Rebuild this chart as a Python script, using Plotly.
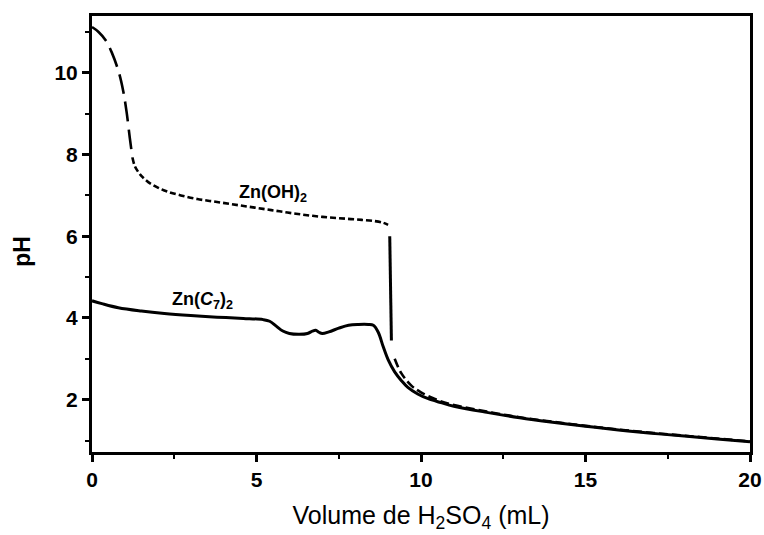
import plotly.graph_objects as go

# Zn(OH)2 titration curve, split into segments drawn with different strokes
oh_steep_x = [0.0, 0.2, 0.42, 0.6, 0.82, 0.95, 1.05, 1.15, 1.23]
oh_steep_y = [11.12, 11.0, 10.79, 10.5, 10.0, 9.55, 9.05, 8.4, 7.92]
oh_plateau_x = [1.23, 1.3, 1.4, 1.5, 1.7, 2.0, 2.3, 2.7, 3.2, 3.7, 4.2, 4.7, 5.2, 5.7, 6.2,
                6.7, 7.2, 7.7, 8.2, 8.6, 8.85, 9.0]
oh_plateau_y = [7.92, 7.72, 7.58, 7.48, 7.33, 7.19, 7.09, 7.0, 6.91, 6.85, 6.79, 6.73, 6.67,
                6.61, 6.55, 6.5, 6.46, 6.43, 6.4, 6.37, 6.33, 6.28]
oh_jump_x = [9.05, 9.1]
oh_jump_y = [6.0, 3.45]
oh_tail_x = [9.2, 9.4, 9.7, 10.0, 10.5, 11, 12, 13, 14, 15, 16, 17, 18, 19, 20]
oh_tail_y = [3.0, 2.65, 2.35, 2.18, 1.99, 1.87, 1.71, 1.57, 1.46, 1.36, 1.27, 1.19, 1.12, 1.05, 0.98]

# Zn(C7)2 titration curve
c7_x = [0.0, 0.3, 0.8, 1.5, 2.2, 3.0, 3.8, 4.6, 5.2, 5.4, 5.6, 5.8, 6.0, 6.3, 6.55, 6.7, 6.8,
        6.9, 7.0, 7.2, 7.5, 7.8, 8.1, 8.4, 8.55, 8.7, 8.85, 9.0, 9.2, 9.4, 9.6, 9.9, 10.2,
        10.6, 11, 12, 13, 14, 15, 16, 17, 18, 19, 20]
c7_y = [4.42, 4.35, 4.25, 4.17, 4.11, 4.06, 4.02, 3.99, 3.96, 3.92, 3.8, 3.68, 3.62, 3.6,
        3.62, 3.68, 3.7, 3.65, 3.62, 3.66, 3.75, 3.82, 3.84, 3.84, 3.82, 3.65, 3.3, 2.98,
        2.68, 2.47, 2.3, 2.14, 2.03, 1.93, 1.84, 1.69, 1.56, 1.45, 1.35, 1.26, 1.18, 1.11,
        1.04, 0.97]

x_ticks = [0, 5, 10, 15, 20]
y_ticks = [2, 4, 6, 8, 10]

SANS = "Liberation Sans, Arial, sans-serif"

fig = go.Figure()
fig.add_trace(go.Scatter(x=oh_steep_x, y=oh_steep_y, mode="lines", line_shape="spline",
                         line=dict(color="black", width=2.6, dash="20px,8px")))
fig.add_trace(go.Scatter(x=oh_plateau_x, y=oh_plateau_y, mode="lines", line_shape="spline",
                         line=dict(color="black", width=2.6, dash="6px,3px")))
fig.add_trace(go.Scatter(x=oh_jump_x, y=oh_jump_y, mode="lines",
                         line=dict(color="black", width=3)))
fig.add_trace(go.Scatter(x=oh_tail_x, y=oh_tail_y, mode="lines", line_shape="spline",
                         line=dict(color="black", width=2.6, dash="9px,4px")))
fig.add_trace(go.Scatter(x=c7_x, y=c7_y, mode="lines", line_shape="spline",
                         line=dict(color="black", width=3)))

fig.add_annotation(x=5.5, y=7.05, text="Zn(OH)<sub>2</sub>", showarrow=False,
                   font=dict(family=SANS, size=18, color="black", weight="bold"))
fig.add_annotation(x=3.35, y=4.42, text="Zn(<i>C</i><sub>7</sub>)<sub>2</sub>", showarrow=False,
                   font=dict(family=SANS, size=18, color="black", weight="bold"))
# y-axis title, set slightly below the axis centre
fig.add_annotation(xref="paper", yref="paper", x=-0.106, y=0.46, text="pH",
                   textangle=-90, showarrow=False, xanchor="center", yanchor="middle",
                   font=dict(family=SANS, size=23, color="black", weight="bold"))

axis_font = dict(family=SANS, size=21, color="black", weight="bold")
fig.update_layout(
    width=764, height=535,
    margin=dict(l=92, r=14, t=16, b=83),
    plot_bgcolor="white", paper_bgcolor="white",
    showlegend=False,
    xaxis=dict(range=[0, 20], tickvals=x_ticks, ticktext=[str(v) for v in x_ticks],
               automargin=False,
               ticks="outside", ticklen=7, tickwidth=2.5, tickcolor="black",
               minor=dict(dtick=2.5, ticks="outside", ticklen=4, tickwidth=2, tickcolor="black"),
               showline=True, linewidth=3, linecolor="black", mirror=True,
               showgrid=False, zeroline=False, tickfont=axis_font,
               title=dict(text="Volume de H<sub>2</sub>SO<sub>4</sub> (mL)", standoff=17,
                          font=dict(family=SANS, size=25, color="black"))),
    yaxis=dict(range=[0.72, 11.39], tickvals=y_ticks, ticktext=[str(v) for v in y_ticks],
               automargin=False,
               ticks="outside", ticklen=7, tickwidth=2.5, tickcolor="black",
               minor=dict(dtick=1, ticks="outside", ticklen=4, tickwidth=2, tickcolor="black"),
               showline=True, linewidth=3, linecolor="black", mirror=True,
               showgrid=False, zeroline=False, tickfont=axis_font),
)

fig.write_html("out.html")
